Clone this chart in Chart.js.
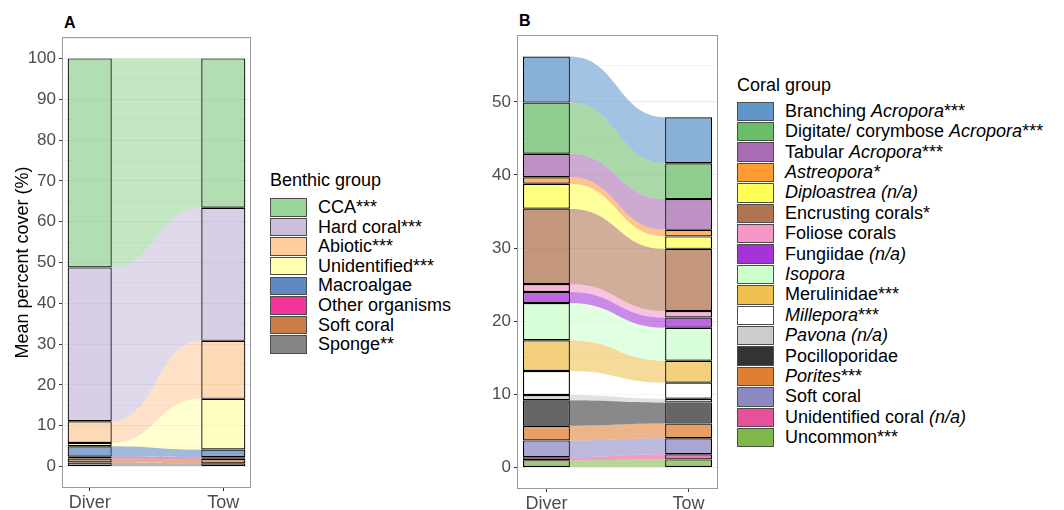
<!DOCTYPE html>
<html>
<head>
<meta charset="utf-8">
<script src="https://cdn.jsdelivr.net/npm/chart.js@4.4.1/dist/chart.umd.min.js"></script>
<style>
  body { margin: 0; background: #fff; font-family: "Liberation Sans", Arial, sans-serif; }
  #page { position: relative; width: 1064px; height: 510px; overflow: hidden; }
  .panel { position: absolute; top: 0; height: 510px; }
  #panelA { left: 0; width: 258px; }
  #panelB { left: 470px; width: 255px; }
  .tag { position: absolute; font-weight: bold; font-size: 16px; line-height: 16px; }
  .legend { position: absolute; color: #000; font-size: 18px; white-space: nowrap; }
  .legend .title { line-height: 20px; height: 20px; }
  .legend .row { display: flex; align-items: center; }
  .legend .key { width: 37px; box-sizing: border-box; border: 1px solid #4d4d4d; margin-right: 11px; }
</style>
</head>
<body>
<div id="page">
  <div class="tag" style="left:64px; top:15px;">A</div>
  <div class="tag" style="left:519px; top:13px;">B</div>
  <div class="panel" id="panelA"><canvas id="chartA"></canvas></div>
  <div class="panel" id="panelB"><canvas id="chartB"></canvas></div>
  <div class="legend" id="legendA" style="left:270px; top:170px;"></div>
  <div class="legend" id="legendB" style="left:737px; top:75px;"></div>
</div>
<script>
const sites = ['Diver', 'Tow'];

// panel A - benthic groups, top of the stack first
const benthicGroups = ['CCA***', 'Hard coral***', 'Abiotic***', 'Unidentified***',
  'Macroalgae', 'Other organisms', 'Soft coral', 'Sponge**'];
const benthicColours = ['#7FC97F', '#BEAED4', '#FDC086', '#FFFF99',
  '#386CB0', '#F0027F', '#BF5B17', '#666666'];
const benthicDiver = [51.2, 37.7, 5.3, 0.8, 2.6, 0.4, 1.0, 1.0];
const benthicTow = [36.6, 32.6, 14.2, 12.4, 1.9, 0.4, 1.1, 0.8];
const benthicTicks = [0, 10, 20, 30, 40, 50, 60, 70, 80, 90, 100];

// panel B - coral groups, top of the stack first
const coralGroups = ['Branching <i>Acropora</i>***', 'Digitate/ corymbose <i>Acropora</i>***',
  'Tabular <i>Acropora</i>***', '<i>Astreopora*</i>', '<i>Diploastrea (n/a)</i>',
  'Encrusting corals*', 'Foliose corals', 'Fungiidae <i>(n/a)</i>', '<i>Isopora</i>',
  'Merulinidae***', '<i>Millepora</i>***', '<i>Pavona (n/a)</i>', 'Pocilloporidae',
  '<i>Porites</i>***', 'Soft coral', 'Unidentified coral <i>(n/a)</i>', 'Uncommon***'];
const coralColours = ['#5F97CB', '#6ABE6A', '#A86CB2', '#FF9A33', '#FFFF55',
  '#B07451', '#F598C8', '#A633D8', '#CCFFCC', '#F0C050', '#FFFFFF',
  '#CCCCCC', '#333333', '#E07F33', '#8C88C2', '#E8509A', '#7FB84A'];
const coralDiver = [6.3, 7.0, 3.2, 0.9, 3.4, 10.3, 1.1, 1.5, 5.1, 4.2, 3.3, 0.7, 3.5, 2.0, 2.3, 0.4, 1.0];
const coralTow = [6.3, 4.9, 4.2, 0.9, 1.7, 8.5, 0.9, 1.4, 4.5, 3.0, 2.2, 0.5, 2.9, 2.0, 2.2, 0.7, 1.1];
const coralTicks = [0, 10, 20, 30, 40, 50];

Chart.defaults.font.family = "'Liberation Sans', Arial, sans-serif";

function tint(hex, a) {
  const n = parseInt(hex.slice(1), 16);
  return `rgba(${n >> 16}, ${(n >> 8) & 255}, ${n & 255}, ${a})`;
}

// alluvial ribbons between the right edge of Diver bars and left edge of Tow bars
const flowPlugin = {
  id: 'flows',
  beforeDatasetsDraw(chart) {
    const ctx = chart.ctx;
    ctx.save();
    chart.data.datasets.forEach((ds, k) => {
      const [a, b] = chart.getDatasetMeta(k).data;
      const x0 = a.x + a.width / 2, x1 = b.x - b.width / 2, mx = (x0 + x1) / 2;
      ctx.beginPath();
      ctx.moveTo(x0, a.y);
      ctx.bezierCurveTo(mx, a.y, mx, b.y, x1, b.y);
      ctx.lineTo(x1, b.base);
      ctx.bezierCurveTo(mx, b.base, mx, a.base, x0, a.base);
      ctx.closePath();
      ctx.fillStyle = ds.flowColour;
      ctx.fill();
    });
    ctx.restore();
  }
};

const panelBorder = {
  id: 'panelBorder',
  afterDatasetsDraw(chart) {
    const { ctx, chartArea: a } = chart;
    ctx.save();
    ctx.strokeStyle = '#9A9A9A';
    ctx.lineWidth = 1;
    ctx.strokeRect(a.left - 0.5, a.top - 0.5, a.right - a.left + 1, a.bottom - a.top + 1);
    ctx.restore();
  }
};

function makeChart(id, groups, colours, diver, tow, ticks, o) {
  const datasets = groups.map((g, k) => ({
    label: g.replace(/<[^>]+>/g, ''),
    data: [{ x: 1, y: diver[k] }, { x: 2, y: tow[k] }],
    backgroundColor: tint(colours[k], o.barAlpha),
    flowColour: tint(colours[k], o.flowAlpha),
    borderColor: '#000000',
    borderWidth: 1.2,
    borderSkipped: false,
    categoryPercentage: 0.33,
    barPercentage: 1,
  })).reverse();

  const top = Math.max(diver.reduce((s, v) => s + v, 0), tow.reduce((s, v) => s + v, 0), ticks[ticks.length - 1]);
  const pad = top * 0.05;
  const yMin = -pad, yMax = top + pad;
  const step = ticks[1] - ticks[0];

  return new Chart(document.getElementById(id), {
    type: 'bar',
    data: { datasets },
    plugins: [flowPlugin, panelBorder],
    options: {
      responsive: true,
      maintainAspectRatio: false,
      animation: false,
      layout: { padding: { top: o.top, right: o.right, left: 0, bottom: 0 } },
      plugins: { legend: { display: false }, tooltip: { enabled: false } },
      scales: {
        x: {
          type: 'linear', min: 0.8, max: 2.2, stacked: true, offset: false,
          afterBuildTicks: s => { s.ticks = sites.map((_, i) => ({ value: i + 1 })); },
          afterFit: s => { s.height = o.xHeight; },
          grid: { drawOnChartArea: false, offset: false, tickLength: 4, tickColor: '#333333' },
          border: { display: false },
          ticks: { callback: v => sites[v - 1], color: '#4D4D4D', font: { size: 18 },
                   padding: 1, autoSkip: false, maxRotation: 0 },
        },
        y: {
          type: 'linear', min: yMin, max: yMax, stacked: true,
          afterBuildTicks: s => {
            const list = [];
            ticks.forEach(v => {
              list.push({ value: v });
              if (v + step / 2 < yMax) list.push({ value: v + step / 2, minor: true });
            });
            if (ticks[0] - step / 2 > yMin) list.unshift({ value: ticks[0] - step / 2, minor: true });
            s.ticks = list;
          },
          afterFit: s => { s.width = o.yWidth; },
          grid: {
            color: c => (c.tick && c.tick.minor ? '#F4F4F4' : '#EBEBEB'),
            tickLength: 4,
            tickColor: c => (c.tick && c.tick.minor ? 'rgba(0,0,0,0)' : '#333333'),
          },
          border: { display: false },
          ticks: { callback: (v, i, t) => (t[i].minor ? '' : v), color: '#4D4D4D',
                   font: { size: 17 }, padding: 3, autoSkip: false },
          title: o.yTitle ? { display: true, text: o.yTitle, color: '#000', font: { size: 18 },
                              padding: { top: 12, bottom: 0 } } : { display: false },
        },
      },
    },
  });
}

function buildLegend(id, title, groups, colours, alpha, rowH, keyH, gap) {
  let html = `<div class="title">${title}</div><div style="margin-top:${gap}px">`;
  groups.forEach((g, k) => {
    html += `<div class="row" style="height:${rowH}px"><div class="key" style="height:${keyH}px; background:${tint(colours[k], alpha)}"></div><span>${g}</span></div>`;
  });
  document.getElementById(id).innerHTML = html + '</div>';
}

makeChart('chartA', benthicGroups, benthicColours, benthicDiver, benthicTow, benthicTicks,
  { barAlpha: 0.6, flowAlpha: 0.47, top: 38, right: 8, xHeight: 23, yWidth: 63, yTitle: 'Mean percent cover (%)' });
makeChart('chartB', coralGroups, coralColours, coralDiver, coralTow, coralTicks,
  { barAlpha: 0.75, flowAlpha: 0.58, top: 36, right: 8, xHeight: 22, yWidth: 48 });

buildLegend('legendA', 'Benthic group', benthicGroups, benthicColours, 0.8, 19.6, 18.4, 7.7);
buildLegend('legendB', 'Coral group', coralGroups, coralColours, 1, 20.4, 19.4, 6.2);
</script>
</body>
</html>
